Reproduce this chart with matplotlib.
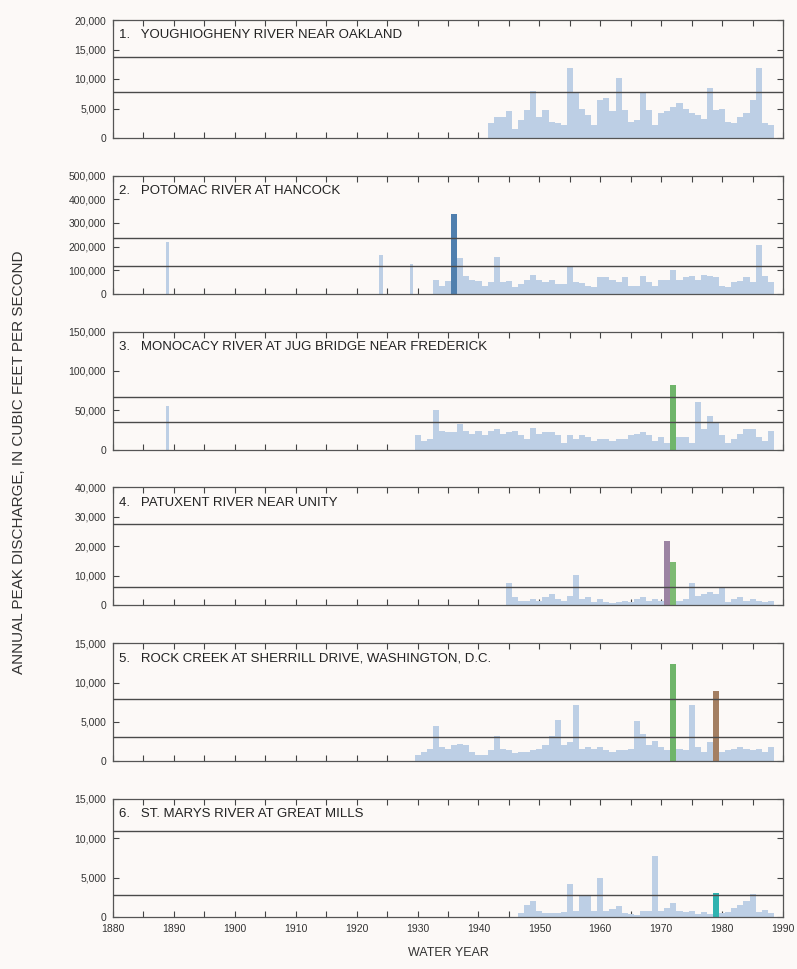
import matplotlib
matplotlib.use("Agg")
import matplotlib.pyplot as plt
from matplotlib.ticker import FuncFormatter, MultipleLocator

# station titles
titles = [
    "1.   YOUGHIOGHENY RIVER NEAR OAKLAND",
    "2.   POTOMAC RIVER AT HANCOCK",
    "3.   MONOCACY RIVER AT JUG BRIDGE NEAR FREDERICK",
    "4.   PATUXENT RIVER NEAR UNITY",
    "5.   ROCK CREEK AT SHERRILL DRIVE, WASHINGTON, D.C.",
    "6.   ST. MARYS RIVER AT GREAT MILLS",
]

# annual peak discharge, cubic feet per second
youghiogheny_years = list(range(1942, 1989))
youghiogheny_peaks = [2500, 3600, 3600, 4500, 1600, 3000, 4700, 7900, 3600, 4700,
                      2700, 2500, 2200, 11900, 7600, 5000, 3900, 2200, 6500, 6700,
                      4500, 10200, 4700, 2700, 3000, 7600, 4700, 2200, 4200, 4500,
                      5300, 5900, 5000, 4200, 3900, 3300, 8500, 4700, 5000, 2700,
                      2500, 3600, 4200, 6500, 11900, 2500, 2200]

potomac_years = [1889, 1924, 1929] + list(range(1933, 1989))
potomac_peaks = [220000, 165000, 125000,
                 60000, 35000, 55000, 340000, 150000, 75000, 60000, 55000, 35000,
                 50000, 155000, 50000, 55000, 30000, 40000, 60000, 80000, 60000,
                 50000, 60000, 40000, 40000, 115000, 50000, 45000, 35000, 30000,
                 70000, 70000, 60000, 50000, 70000, 35000, 35000, 75000, 50000,
                 35000, 60000, 60000, 100000, 60000, 70000, 75000, 60000, 80000,
                 75000, 70000, 35000, 30000, 50000, 55000, 70000, 50000, 205000,
                 75000, 50000]

monocacy_years = [1889] + list(range(1930, 1989))
monocacy_peaks = [56000,
                  18000, 11000, 13000, 50000, 24000, 22000, 22000, 32000, 24000,
                  20000, 24000, 18000, 24000, 26000, 20000, 22000, 24000, 18000,
                  13000, 28000, 20000, 22000, 22000, 18000, 9000, 18000, 13000,
                  18000, 16000, 11000, 13000, 13000, 11000, 13000, 13000, 18000,
                  20000, 22000, 18000, 11000, 16000, 9000, 82000, 16000, 16000,
                  9000, 60000, 26000, 43000, 35000, 18000, 9000, 13000, 20000,
                  26000, 26000, 16000, 11000, 24000]

patuxent_years = list(range(1945, 1989))
patuxent_peaks = [7500, 2700, 1600, 1600, 2200, 1600, 2700, 3800, 2200, 1600,
                  3300, 10400, 2200, 2700, 1100, 2200, 1100, 800, 1100, 1600,
                  1100, 2200, 2700, 1600, 2200, 1600, 21800, 14800, 1600, 2200,
                  7700, 3300, 3800, 4400, 3800, 6000, 1100, 2200, 2700, 1600,
                  2200, 1600, 1100, 1600]

rock_creek_years = list(range(1930, 1989))
rock_creek_peaks = [750, 1200, 1600, 4500, 1800, 1600, 2000, 2200, 2000, 1200,
                    750, 750, 1400, 3200, 1600, 1400, 1000, 1200, 1200, 1400,
                    1600, 2000, 3200, 5300, 2000, 2400, 7200, 1600, 1800, 1600,
                    1800, 1400, 1200, 1400, 1400, 1600, 5100, 3500, 2000, 2600,
                    1800, 1400, 12400, 1600, 1400, 7200, 1800, 1200, 2400, 8900,
                    1200, 1400, 1600, 1800, 1600, 1400, 1600, 1200, 1800]

st_marys_years = list(range(1947, 1989))
st_marys_peaks = [500, 1500, 2000, 800, 500, 500, 500, 600, 4200, 800,
                  2800, 2800, 800, 4900, 800, 1000, 1400, 500, 400, 300,
                  800, 800, 7800, 800, 1200, 1800, 800, 600, 800, 400,
                  600, 400, 3100, 500, 600, 1200, 1500, 2000, 2900, 600,
                  900, 500]

all_years = [youghiogheny_years, potomac_years, monocacy_years,
             patuxent_years, rock_creek_years, st_marys_years]
all_peaks = [youghiogheny_peaks, potomac_peaks, monocacy_peaks,
             patuxent_peaks, rock_creek_peaks, st_marys_peaks]

# two reference discharge lines per station
ref_lines = [
    [13800, 7800],
    [236000, 118000],
    [67500, 35000],
    [27500, 6200],
    [7900, 3100],
    [10900, 2750],
]
y_max = [20000, 500000, 150000, 40000, 15000, 15000]
y_step = [5000, 100000, 50000, 10000, 5000, 5000]

# highlighted storm years
highlights = [
    {},
    {1936: "#4f7fae"},
    {1972: "#6fb56a"},
    {1971: "#9c84a3", 1972: "#7dba73"},
    {1972: "#6fb56a", 1979: "#a47f62"},
    {1979: "#2fb3b0"},
]

BAR = "#bdcfe5"
BG = "#fcf9f7"
LINE = "#4a4a4a"
FONT = ["Liberation Sans", "DejaVu Sans"]

plt.rcParams["font.family"] = FONT

fig = plt.figure(figsize=(7.97, 9.69), dpi=100, facecolor=BG)
W, H = 797.0, 969.0
left, right = 113, 783
top0, step, height = 20, 155.8, 118

for i in range(6):
    top = top0 + i * step
    ax = fig.add_axes([left / W, 1 - (top + height) / H, (right - left) / W, height / H])
    ax.set_facecolor(BG)

    years = all_years[i]
    peaks = all_peaks[i]
    colors = [highlights[i].get(y, BAR) for y in years]
    # isolated historic peaks are drawn as thin bars
    widths = [0.5 if y < 1930 else 1.0 for y in years]
    ax.bar(years, peaks, width=widths, color=colors, edgecolor="none", zorder=2)

    for v in ref_lines[i]:
        ax.axhline(v, color=LINE, lw=1.0, zorder=3)

    ax.set_xlim(1880, 1990)
    ax.set_ylim(0, y_max[i])
    ax.xaxis.set_major_locator(MultipleLocator(10))
    ax.xaxis.set_minor_locator(MultipleLocator(5))
    ax.yaxis.set_major_locator(MultipleLocator(y_step[i]))
    ax.yaxis.set_major_formatter(FuncFormatter(lambda v, p: f"{int(v):,}"))

    ax.tick_params(axis="both", which="both", direction="in", top=True, right=True,
                   color="#444444", width=0.8, length=4)
    ax.tick_params(axis="y", labelsize=7.5, labelcolor="#333333", pad=5)
    ax.tick_params(axis="x", labelsize=7.5, labelcolor="#333333", pad=5)
    if i < 5:
        ax.tick_params(axis="x", labelbottom=False)

    for s in ax.spines.values():
        s.set_color("#555555")
        s.set_linewidth(0.9)

    ax.text(0.009, 0.87, titles[i], transform=ax.transAxes, fontsize=9.5,
            color="#222222", va="center", ha="left", zorder=4)

fig.text((left + right) / 2 / W, 1 - 953 / H, "WATER YEAR", ha="center",
         va="center", fontsize=9, color="#333333")
fig.text(19 / W, 1 - 462 / H, "ANNUAL PEAK DISCHARGE, IN CUBIC FEET PER SECOND",
         rotation=90, ha="center", va="center", fontsize=11, color="#333333")

fig.savefig("out.png", dpi=100, facecolor=BG)
